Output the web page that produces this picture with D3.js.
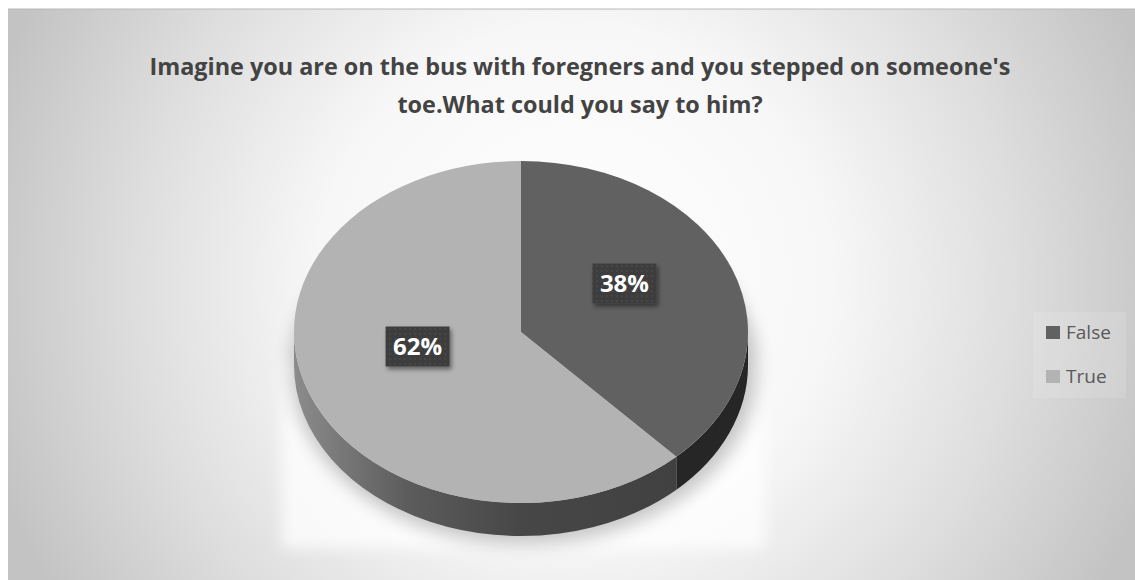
<!DOCTYPE html>
<html>
<head>
<meta charset="utf-8">
<script src="https://cdn.jsdelivr.net/npm/d3@7/dist/d3.min.js"></script>
<style>
  html, body { margin: 0; padding: 0; background: #ffffff; }
  svg { display: block; }
</style>
</head>
<body>
<svg id="chart" width="1135" height="580"></svg>
<script>
// Survey answers
const categories = ["False", "True"];
const values = [38, 62];
const titleLines = [
  "Imagine you are on the bus with foregners and you stepped on someone's",
  "toe.What could you say to him?"
];

const W = 1135, H = 580;
const svg = d3.select("#chart");
const defs = svg.append("defs");

// Background radial wash
const bg = defs.append("radialGradient").attr("id", "bgGrad")
  .attr("gradientUnits", "userSpaceOnUse")
  .attr("cx", 575).attr("cy", 280).attr("r", 610);
[[0, "#ffffff"], [0.42, "#f7f7f7"], [0.72, "#dedede"], [1, "#c3c3c3"]]
  .forEach(([o, c]) => bg.append("stop").attr("offset", o).attr("stop-color", c));

// Side wall shading of the pie
const sideGrad = defs.append("linearGradient").attr("id", "sideGrad")
  .attr("gradientUnits", "userSpaceOnUse")
  .attr("x1", 294).attr("x2", 748).attr("y1", 0).attr("y2", 0);
[[0, "#8c8c8c"], [0.25, "#5c5c5c"], [0.5, "#474747"], [1, "#3e3e3e"]]
  .forEach(([o, c]) => sideGrad.append("stop").attr("offset", o).attr("stop-color", c));

// Dotted fill for data label boxes
const pat = defs.append("pattern").attr("id", "dots")
  .attr("width", 5).attr("height", 5).attr("patternUnits", "userSpaceOnUse");
pat.append("rect").attr("width", 5).attr("height", 5).attr("fill", "#3e3e3e");
pat.append("rect").attr("x", 2).attr("y", 2).attr("width", 1).attr("height", 1).attr("fill", "#5e5e5e");

const shadow = defs.append("filter").attr("id", "boxShadow")
  .attr("x", "-30%").attr("y", "-30%").attr("width", "160%").attr("height", "160%");
shadow.append("feDropShadow").attr("dx", 2).attr("dy", 3)
  .attr("stdDeviation", 2).attr("flood-color", "#000").attr("flood-opacity", 0.45);

const blurSoft = defs.append("filter").attr("id", "blurSoft")
  .attr("x", "-20%").attr("y", "-20%").attr("width", "140%").attr("height", "140%");
blurSoft.append("feGaussianBlur").attr("stdDeviation", 7);

const blurShadow = defs.append("filter").attr("id", "blurShadow")
  .attr("x", "-20%").attr("y", "-20%").attr("width", "140%").attr("height", "140%");
blurShadow.append("feGaussianBlur").attr("stdDeviation", 9);

// Chart area
svg.append("rect").attr("x", 8).attr("y", 9).attr("width", W - 8).attr("height", H - 9)
  .attr("fill", "url(#bgGrad)");
svg.append("line").attr("x1", 8).attr("x2", W).attr("y1", 9).attr("y2", 9)
  .attr("stroke", "#b8b8b8").attr("stroke-width", 1);

// Title
svg.append("g").selectAll("text").data(titleLines).join("text")
  .attr("x", 580)
  .attr("y", (d, i) => 75 + i * 38)
  .attr("text-anchor", "middle")
  .attr("font-family", "'Open Sans', sans-serif")
  .attr("font-weight", 700)
  .attr("font-size", 23.4)
  .attr("fill", "#434343")
  .text(d => d);

// Pie geometry (elliptical top face with a side wall)
const cx = 521, cy = 332, rx = 227, ry = 171, depth = 33;
const pt = (a, dy = 0) => [cx + rx * Math.sin(a), cy - ry * Math.cos(a) + dy];

const color = d3.scaleOrdinal().domain(categories).range(["#616161", "#b3b3b3"]);
const sideColor = d3.scaleOrdinal().domain(categories).range(["#262626", "url(#sideGrad)"]);

const pie = d3.pie().sort(null).value(d => d.value);
const arcs = pie(categories.map((c, i) => ({ key: c, value: values[i] })));

// Floor glow and shadow under the pie
svg.append("rect").attr("x", 282).attr("y", 360).attr("width", 482).attr("height", 188)
  .attr("fill", "#ffffff").attr("opacity", 0.75).attr("filter", "url(#blurSoft)");
svg.append("ellipse").attr("cx", cx + 3).attr("cy", cy + depth + 4)
  .attr("rx", rx + 6).attr("ry", ry + 4)
  .attr("fill", "#000").attr("opacity", 0.22).attr("filter", "url(#blurShadow)");

// Visible side walls (front half of the ellipse)
const lo = Math.PI / 2, hi = 3 * Math.PI / 2;
const sideG = svg.append("g");
arcs.forEach(a => {
  const a0 = Math.max(a.startAngle, lo), a1 = Math.min(a.endAngle, hi);
  if (a1 <= a0) return;
  const [x0, y0] = pt(a0), [x1, y1] = pt(a1);
  const large = (a1 - a0) > Math.PI ? 1 : 0;
  const p = `M${x0},${y0} A${rx},${ry} 0 ${large} 1 ${x1},${y1}` +
            ` L${x1},${y1 + depth} A${rx},${ry} 0 ${large} 0 ${x0},${y0 + depth} Z`;
  sideG.append("path").attr("d", p).attr("fill", sideColor(a.data.key));
});

// Top faces
const arcGen = d3.arc().innerRadius(0).outerRadius(rx);
svg.append("g")
  .attr("transform", `translate(${cx},${cy}) scale(1,${ry / rx})`)
  .selectAll("path").data(arcs).join("path")
  .attr("d", arcGen)
  .attr("fill", d => color(d.data.key));

// Data labels
const labelG = svg.append("g");
arcs.forEach(a => {
  const mid = (a.startAngle + a.endAngle) / 2;
  const lx = cx + rx * 0.49 * Math.sin(mid);
  const ly = cy - ry * 0.5 * Math.cos(mid) - 17;
  const g = labelG.append("g").attr("transform", `translate(${lx},${ly})`);
  g.append("rect").attr("x", -32).attr("y", -20).attr("width", 64).attr("height", 40)
    .attr("fill", "url(#dots)").attr("filter", "url(#boxShadow)");
  g.append("text").attr("text-anchor", "middle").attr("y", 8.5)
    .attr("font-family", "'Open Sans', sans-serif").attr("font-weight", 700)
    .attr("font-size", 24).attr("fill", "#ffffff")
    .text(`${a.data.value}%`);
});

// Legend
svg.append("rect").attr("x", 1033).attr("y", 312).attr("width", 93).attr("height", 86)
  .attr("fill", "#ffffff").attr("opacity", 0.12);
const leg = svg.append("g").selectAll("g").data(categories).join("g")
  .attr("transform", (d, i) => `translate(1046,${326 + i * 44})`);
leg.append("rect").attr("width", 14).attr("height", 13).attr("fill", d => color(d));
leg.append("text").attr("x", 20).attr("y", 12.5)
  .attr("font-family", "'Open Sans', sans-serif").attr("font-size", 19)
  .attr("fill", "#595959").text(d => d);
</script>
</body>
</html>
